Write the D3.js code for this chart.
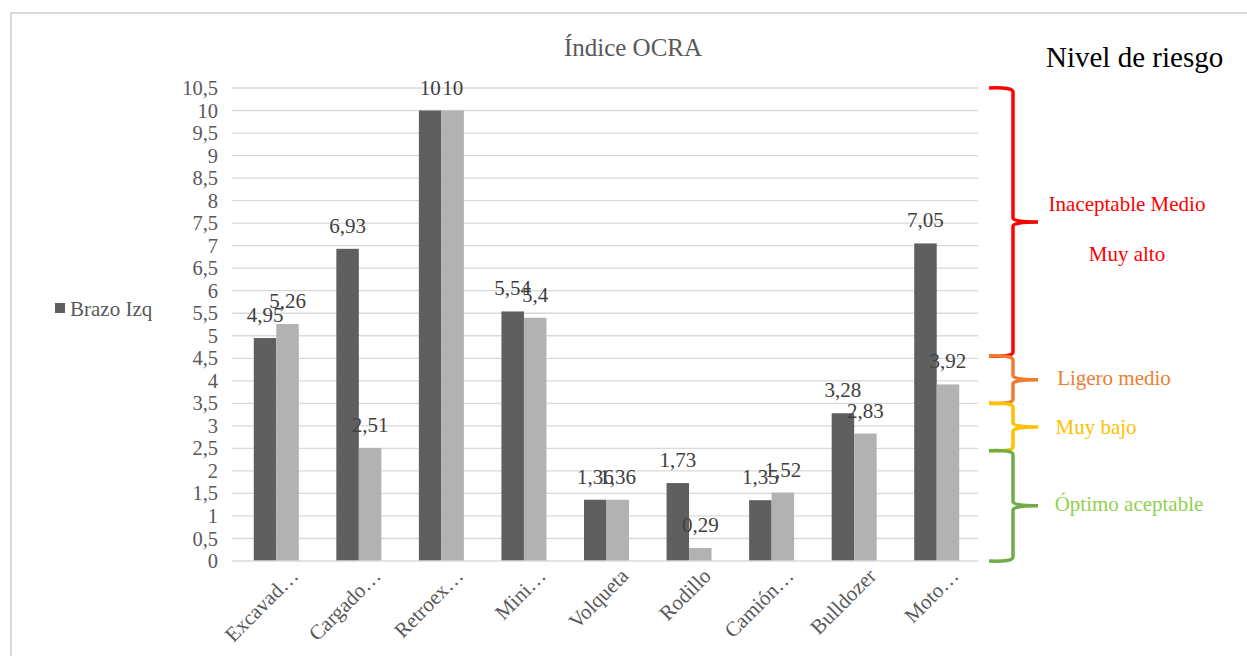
<!DOCTYPE html>
<html>
<head>
<script src="https://cdn.jsdelivr.net/npm/d3@7"></script>
</head>
<body style="margin:0;background:#ffffff">
<svg id="ocra" width="1247" height="656"></svg>
<script>
// Equipment categories (truncated as shown on the axis)
const categories = ["Excavad…", "Cargado…", "Retroex…", "Mini…", "Volqueta", "Rodillo", "Camión…", "Bulldozer", "Moto…"];
// OCRA index per arm
const brazoIzq = [4.95, 6.93, 10, 5.54, 1.36, 1.73, 1.35, 3.28, 7.05];
const brazoDer = [5.26, 2.51, 10, 5.4, 1.36, 0.29, 1.52, 2.83, 3.92];
const seriesNames = ["Brazo Izq", "Brazo Der"];
// Y-axis ticks
const yTicks = [0, 0.5, 1, 1.5, 2, 2.5, 3, 3.5, 4, 4.5, 5, 5.5, 6, 6.5, 7, 7.5, 8, 8.5, 9, 9.5, 10, 10.5];
// Risk level bands: label lines, lower and upper bound on the index
const riskLabels = [["Inaceptable Medio", "Muy alto"], ["Ligero medio"], ["Muy bajo"], ["Óptimo aceptable"]];
const riskFrom = [4.55, 3.5, 2.45, 0];
const riskTo = [10.5, 4.55, 3.5, 2.45];
const riskStroke = ["#ff0000", "#ed7d31", "#ffc000", "#70ad47"];
const riskText = ["#ff0000", "#ed7d31", "#ffc000", "#92d050"];

const FONT = "'Liberation Serif'";
// Apply the serif face and size to a text selection
const serif = (sel, px) => sel.attr("font-family", FONT)
  .style("font-family", FONT, "important").style("font-size", px + "px");

const svg = d3.select("#ocra");
const fmt = v => String(v).replace(".", ",");

// Chart frame
svg.append("path")
  .attr("d", "M11,660 L11,13 L1250,13")
  .attr("fill", "none").attr("stroke", "#d9d9d9").attr("stroke-width", 2);

const plot = { left: 235, right: 978, top: 88, bottom: 561 };

const x = d3.scaleBand().domain(categories).range([plot.left, plot.right]).paddingInner(0.455).paddingOuter(0.2275);
const xs = d3.scaleBand().domain(seriesNames).range([0, x.bandwidth()]);
const y = d3.scaleLinear().domain([0, 10.5]).range([plot.bottom, plot.top]);

// Gridlines
svg.append("g").selectAll("line").data(yTicks.filter(t => t > 0)).join("line")
  .attr("x1", plot.left - 3).attr("x2", plot.right)
  .attr("y1", d => y(d)).attr("y2", d => y(d))
  .attr("stroke", "#d9d9d9").attr("stroke-width", 1.3);

// Y axis labels
const yAxis = d3.axisLeft(y).tickValues(yTicks).tickFormat(fmt).tickSize(0).tickPadding(0);
const gy = svg.append("g").attr("transform", `translate(${plot.left - 17},0)`).call(yAxis);
gy.select(".domain").remove();
serif(gy.selectAll("text").attr("fill", "#595959"), 20.5);

// Bars
const data = categories.map((c, i) => ({ cat: c, vals: [brazoIzq[i], brazoDer[i]] }));
const colors = ["#5f5f5f", "#b2b2b2"];
const groups = svg.append("g").selectAll("g").data(data).join("g")
  .attr("transform", d => `translate(${x(d.cat)},0)`);
groups.selectAll("rect").data(d => d.vals.map((v, j) => ({ v, s: seriesNames[j], j }))).join("rect")
  .attr("x", d => xs(d.s)).attr("width", xs.bandwidth())
  .attr("y", d => y(d.v)).attr("height", d => y(0) - y(d.v))
  .attr("fill", d => colors[d.j]);
serif(groups.selectAll("text").data(d => d.vals.map((v, j) => ({ v, s: seriesNames[j], j }))).join("text")
  .attr("x", d => xs(d.s) + xs.bandwidth() / 2)
  .attr("y", d => y(d.v) - 16)
  .attr("text-anchor", "middle")
  .attr("fill", "#404040")
  .text(d => fmt(d.v)), 21);

// Baseline
svg.append("line").attr("x1", plot.left - 3).attr("x2", plot.right)
  .attr("y1", y(0)).attr("y2", y(0)).attr("stroke", "#d9d9d9").attr("stroke-width", 1.5);

// X axis labels
const gx = svg.append("g").attr("transform", `translate(0,${plot.bottom})`)
  .call(d3.axisBottom(x).tickSize(0).tickPadding(0));
gx.select(".domain").remove();
serif(gx.selectAll("text")
  .attr("fill", "#595959")
  .attr("text-anchor", "end")
  .attr("transform", "translate(18,11) rotate(-45)")
  .attr("dy", "0.35em"), 21);

// Title
serif(svg.append("text").attr("x", 633).attr("y", 56).attr("text-anchor", "middle")
  .attr("fill", "#595959").text("Índice OCRA"), 25);

// Legend
svg.append("rect").attr("x", 55).attr("y", 303).attr("width", 10).attr("height", 10).attr("fill", colors[0]);
serif(svg.append("text").attr("x", 70).attr("y", 316).attr("fill", "#595959").text(seriesNames[0]), 21);

// Risk level heading
serif(svg.append("text").attr("x", 1046).attr("y", 67).attr("fill", "#000000").text("Nivel de riesgo"), 29);

// Curly braces for the risk levels
function bracePath(y0, y1, sx) {
  const ym = (y0 + y1) / 2;
  const left = sx - 24, tip = sx + 25, r = 4;
  return `M${left},${y0} Q${sx},${y0 - 1} ${sx},${y0 + r} L${sx},${ym - 4} Q${sx},${ym} ${tip},${ym}` +
         ` M${tip},${ym} Q${sx},${ym} ${sx},${ym + 4} L${sx},${y1 - r} Q${sx},${y1 + 1} ${left},${y1}`;
}
const risk = svg.append("g");
riskLabels.forEach((lines, i) => {
  const y0 = y(riskTo[i]), y1 = y(riskFrom[i]);
  risk.append("path").attr("d", bracePath(y0, y1, 1013))
    .attr("fill", "none").attr("stroke", riskStroke[i]).attr("stroke-width", 3.5).attr("stroke-linejoin", "round");
});
// Labels beside each brace
const labelPos = [[1127, 211, 261], [1114, 385], [1096, 434], [1129, 511]];
riskLabels.forEach((lines, i) => {
  lines.forEach((t, k) => {
    serif(svg.append("text").attr("x", labelPos[i][0]).attr("y", labelPos[i][1 + k])
      .attr("text-anchor", "middle").attr("fill", riskText[i]).text(t), 21);
  });
});
</script>
</body>
</html>
